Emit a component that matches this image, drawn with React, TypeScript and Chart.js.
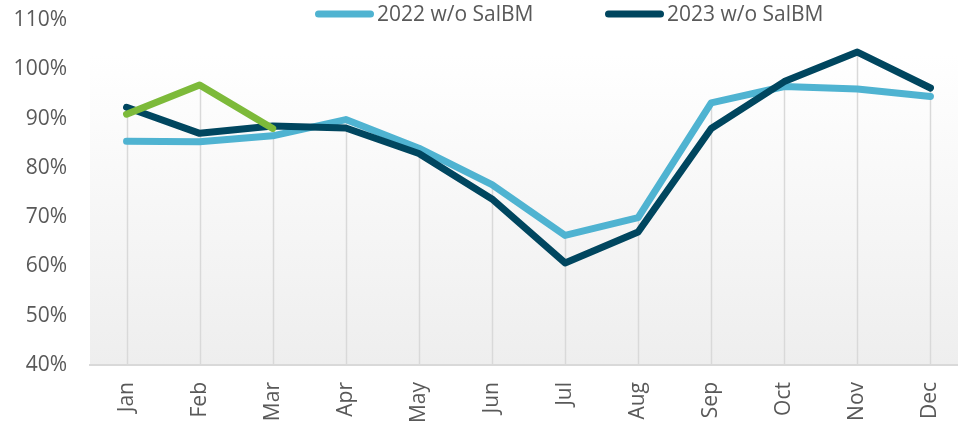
import React, { useEffect, useRef } from "react";
import { Chart, registerables } from "chart.js";

Chart.register(...registerables);

const categories = ["Jan", "Feb", "Mar", "Apr", "May", "Jun", "Jul", "Aug", "Sep", "Oct", "Nov", "Dec"];
const series2022 = [85.4, 85.3, 86.5, 89.8, 84.0, 76.6, 66.3, 69.9, 93.2, 96.5, 96.0, 94.5];
const series2023 = [92.3, 87.0, 88.5, 88.1, 82.9, 73.7, 60.7, 67.0, 88.0, 97.5, 103.5, 96.2];
const series2024 = [90.9, 96.8, 88.0, null, null, null, null, null, null, null, null, null];
const legendLabels = ["2022 w/o SalBM", "2023 w/o SalBM"];
const yMin = 40;
const yMax = 110;
const yStep = 10;

const FONT = '"Open Sans", "Noto Sans", sans-serif';
const FONT_SIZE = 21;
const TEXT_COLOR = "#595959";
const COLOR_2022 = "#4FB3D1";
const COLOR_2023 = "#00465F";
const COLOR_2024 = "#7DBA3A";

const backgroundPlugin = {
  id: "plotBackground",
  beforeDraw(chart: any) {
    const { ctx, chartArea } = chart;
    if (!chartArea) return;
    ctx.save();
    const g = ctx.createLinearGradient(0, chartArea.top, 0, chartArea.bottom);
    g.addColorStop(0, "#ffffff");
    g.addColorStop(0.1, "#ffffff");
    g.addColorStop(1, "#eeeeee");
    ctx.fillStyle = g;
    ctx.fillRect(chartArea.left, chartArea.top, chartArea.right - chartArea.left, chartArea.bottom - chartArea.top);
    ctx.restore();
  },
};

const dropLinePlugin = {
  id: "dropLines",
  beforeDatasetsDraw(chart: any) {
    const { ctx, chartArea, scales } = chart;
    const x = scales.x;
    const y = scales.y;
    ctx.save();
    ctx.strokeStyle = "#d9d9d9";
    ctx.lineWidth = 1.5;
    categories.forEach((_, i) => {
      let top = Infinity;
      chart.data.datasets.forEach((ds: any) => {
        const v = ds.data[i];
        if (v !== null && v !== undefined) top = Math.min(top, y.getPixelForValue(v));
      });
      if (!isFinite(top)) return;
      const px = Math.round(x.getPixelForValue(i)) + 0.5;
      ctx.beginPath();
      ctx.moveTo(px, top);
      ctx.lineTo(px, chartArea.bottom);
      ctx.stroke();
    });
    ctx.restore();
  },
};

const legendPlugin = {
  id: "topLegend",
  afterDraw(chart: any) {
    const { ctx } = chart;
    ctx.save();
    ctx.font = `${FONT_SIZE}px ${FONT}`;
    ctx.textBaseline = "middle";
    ctx.textAlign = "left";
    const startX = 315;
    const pitch = 290;
    const lineLen = 59;
    const cy = 14;
    legendLabels.forEach((label, idx) => {
      const ds: any = chart.data.datasets.find((d: any) => d.label === label);
      if (!ds) return;
      const x0 = startX + idx * pitch;
      ctx.strokeStyle = ds.borderColor;
      ctx.lineWidth = ds.borderWidth;
      ctx.lineCap = "round";
      ctx.beginPath();
      ctx.moveTo(x0 + ds.borderWidth / 2, cy);
      ctx.lineTo(x0 + lineLen - ds.borderWidth / 2, cy);
      ctx.stroke();
      ctx.fillStyle = TEXT_COLOR;
      ctx.fillText(ds.label, x0 + lineLen + 3, cy + 1);
    });
    ctx.restore();
  },
};

export default function App() {
  const ref = useRef<HTMLCanvasElement | null>(null);

  useEffect(() => {
    if (!ref.current) return;
    const chart = new Chart(ref.current, {
      type: "line",
      data: {
        labels: categories,
        datasets: [
          {
            label: "2024",
            data: series2024,
            borderColor: COLOR_2024,
            backgroundColor: COLOR_2024,
            borderWidth: 7,
            pointRadius: 0,
            borderCapStyle: "round",
            borderJoinStyle: "round",
            order: 0,
            spanGaps: false,
          },
          {
            label: legendLabels[1],
            data: series2023,
            borderColor: COLOR_2023,
            backgroundColor: COLOR_2023,
            borderWidth: 7,
            pointRadius: 0,
            borderCapStyle: "round",
            borderJoinStyle: "round",
            order: 1,
          },
          {
            label: legendLabels[0],
            data: series2022,
            borderColor: COLOR_2022,
            backgroundColor: COLOR_2022,
            borderWidth: 7,
            pointRadius: 0,
            borderCapStyle: "round",
            borderJoinStyle: "round",
            order: 2,
          },
        ],
      },
      options: {
        animation: false,
        responsive: false,
        layout: { padding: { top: 20, left: 0, right: 0, bottom: 0 } },
        plugins: {
          legend: { display: false },
          tooltip: { enabled: false },
        },
        scales: {
          x: {
            type: "category",
            offset: true,
            grid: { display: false, drawTicks: false },
            border: { display: true, color: "#d9d9d9", width: 2 },
            ticks: {
              minRotation: 90,
              maxRotation: 90,
              padding: 17,
              color: TEXT_COLOR,
              font: { family: FONT, size: FONT_SIZE },
            },
            afterFit(scale: any) {
              scale.height = 58;
              scale.paddingLeft = 0;
              scale.paddingRight = 0;
            },
          },
          y: {
            min: yMin,
            max: yMax,
            grid: { display: false, drawTicks: false },
            border: { display: false },
            ticks: {
              stepSize: yStep,
              padding: 23,
              color: TEXT_COLOR,
              font: { family: FONT, size: FONT_SIZE },
              callback: (v: any) => `${v}%`,
            },
            afterFit(scale: any) {
              scale.width = 90;
              scale.paddingTop = 0;
              scale.paddingBottom = 0;
            },
          },
        },
      },
      plugins: [backgroundPlugin, dropLinePlugin, legendPlugin],
    } as any);
    return () => chart.destroy();
  }, []);

  return (
    <div style={{ position: "fixed", left: 0, top: 0, width: 958, height: 423, overflow: "hidden", background: "#ffffff" }}>
      <canvas ref={ref} width={967} height={423} style={{ display: "block", width: 967, height: 423 }} />
    </div>
  );
}
